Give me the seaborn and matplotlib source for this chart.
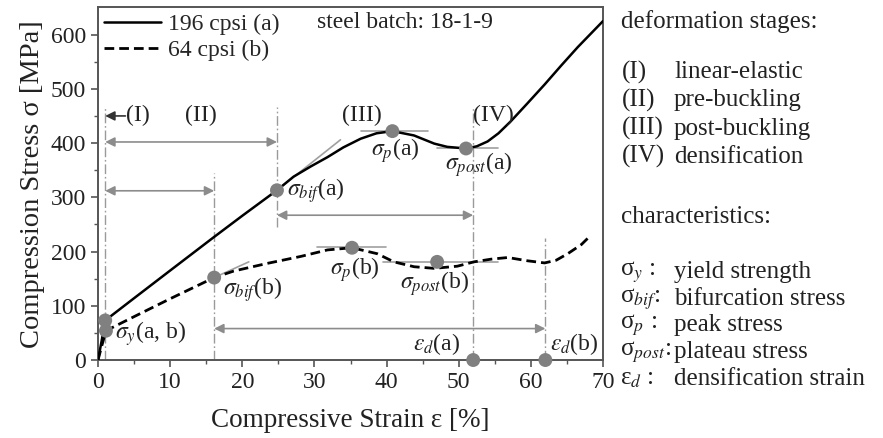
# Compression stress-strain curves with deformation stages
import numpy as np
import pandas as pd
import seaborn as sns
import matplotlib.pyplot as plt

# Curve (a): 196 cpsi, solid.
strain_a = [0, 0.5, 1.0, 5, 10, 16, 20, 24.8, 27.1, 29.5, 31.8, 34, 36.4, 38.6,
            40.8, 43.8, 46.6, 48.4, 51, 52.5, 54, 55.5, 57.2, 59.5, 61.9, 64.2,
            66.5, 70]
stress_a = [0, 35, 73, 114, 165, 226, 266, 313, 338, 357, 374, 392, 408, 418,
            422, 414, 399, 393, 390, 394, 403, 418, 440, 473, 508, 543, 577, 625]

# Curve (b): 64 cpsi, dashed.
strain_b = [0, 0.6, 1.1, 5, 10, 16.1, 18.8, 23.4, 28.1, 31.8, 35.2, 38.7, 41,
            43.8, 46.6, 49.8, 52.1, 54.5, 56.8, 59.5, 61.9, 63.5, 65.1, 67, 68.3]
stress_b = [0, 30, 54, 80, 113, 152, 164, 178, 191, 203, 207, 196, 181,
            172, 169, 173, 181, 186, 189, 183, 179, 184, 196, 213, 230]

# Characteristic points (grey dots).
point_strain = [1.0, 1.1, 24.8, 16.1, 40.8, 51.0, 35.2, 47.0, 52, 62]
point_stress = [73, 54, 313, 152, 422, 390, 207, 181, 0, 0]

# Stage boundaries: strain, lower and upper end of the dash-dot guide.
bound_strain = [1.0, 16.1, 24.8, 52, 62]
bound_low = [0, 0, 245, 0, 0]
bound_high = [465, 345, 466, 466, 225]

# Stage spans (double arrows): start, end, stress level.
span_start = [1.0, 1.0, 24.8, 16.1]
span_end = [24.8, 16.1, 52, 62]
span_level = [402, 312, 267, 58]

# Tangent / plateau guide segments: x0, x1, y0, y1.
guide_x0 = [24.8, 16.1, 36.4, 47.0, 30.4, 39.5]
guide_x1 = [33.6, 20.9, 45.8, 55.4, 39.9, 55.5]
guide_y0 = [313, 152, 423, 390, 208, 181]
guide_y1 = [406, 181, 423, 390, 208, 181]

stage_labels = ["(I)", "(II)", "(III)", "(IV)"]
stage_names = ["linear-elastic", "pre-buckling", "post-buckling", "densification"]
char_symbols = ["σ$_y$ :", "σ$_{bif}$:", "σ$_p$ :", "σ$_{post}$:", "ε$_d$ :"]
char_names = ["yield strength", "bifurcation stress", "peak stress",
              "plateau stress", "densification strain"]

sns.set_style("ticks")
plt.rcParams["font.family"] = ["Liberation Serif", "DejaVu Serif"]
plt.rcParams["mathtext.fontset"] = "stix"
txt = "#222222"
grey = "#8c8c8c"

fig, ax = plt.subplots(figsize=(8.83, 4.38), dpi=100)
fig.subplots_adjust(left=0.111, right=0.683, bottom=0.178, top=0.983)

# Guides first, so curves sit on top.
for x, lo, hi in zip(bound_strain, bound_low, bound_high):
    ax.plot([x, x], [lo, hi], color="#9a9a9a", lw=1.0,
            linestyle=(0, (7, 2, 1.2, 2)), zorder=1)
for x0, x1, y0, y1 in zip(guide_x0, guide_x1, guide_y0, guide_y1):
    ax.plot([x0, x1], [y0, y1], color="#a0a0a0", lw=1.2, zorder=1)
for s, e, lv in zip(span_start, span_end, span_level):
    ax.annotate("", xy=(e, lv), xytext=(s, lv),
                arrowprops=dict(arrowstyle="<|-|>", color=grey, lw=1.2,
                                mutation_scale=14, shrinkA=0, shrinkB=0))
ax.annotate("", xy=(bound_strain[0], 450), xytext=(3.8, 450),
            arrowprops=dict(arrowstyle="-|>", color="#333333", lw=1.2,
                            mutation_scale=14, shrinkA=0, shrinkB=0))

# Curves.
df_a = pd.DataFrame({"strain": strain_a, "stress": stress_a})
df_b = pd.DataFrame({"strain": strain_b, "stress": stress_b})
sns.lineplot(data=df_a, x="strain", y="stress", sort=False, color="black",
             lw=1.8, label="196 cpsi (a)", ax=ax, zorder=3)
sns.lineplot(data=df_b, x="strain", y="stress", sort=False, color="black",
             lw=2.0, linestyle=(0, (3.5, 1.8)), label="64 cpsi (b)", ax=ax,
             zorder=3)
sns.scatterplot(x=point_strain, y=point_stress, color="#808080", s=100,
                edgecolor="none", zorder=5, clip_on=False, ax=ax)

# Annotations.
fs = 17
ax.text(2.3, 49, r"$\sigma_y$(a, b)", fontsize=fs, va="center", color=txt)
ax.text(17.3, 130, r"$\sigma_{bif}$(b)", fontsize=fs, va="center", color=txt)
ax.text(26.2, 313, r"$\sigma_{bif}$(a)", fontsize=fs, va="center", color=txt)
ax.text(37.9, 386, r"$\sigma_p$(a)", fontsize=fs, va="center", color=txt)
ax.text(48.1, 360, r"$\sigma_{post}$(a)", fontsize=fs, va="center", color=txt)
ax.text(32.1, 166, r"$\sigma_p$(b)", fontsize=fs, va="center", color=txt)
ax.text(41.8, 141, r"$\sigma_{post}$(b)", fontsize=fs, va="center", color=txt)
ax.text(43.7, 30, r"$\varepsilon_d$(a)", fontsize=fs, va="center", color=txt)
ax.text(62.6, 30, r"$\varepsilon_d$(b)", fontsize=fs, va="center", color=txt)
ax.text(3.9, 451, "(I)", fontsize=fs, va="center", color=txt)
ax.text(14.3, 451, "(II)", fontsize=fs, va="center", ha="center", color=txt)
ax.text(36.6, 451, "(III)", fontsize=fs, va="center", ha="center", color=txt)
ax.text(54.8, 451, "(IV)", fontsize=fs, va="center", ha="center", color=txt)
ax.text(30.4, 623, "steel batch: 18-1-9", fontsize=fs, va="center", color=txt)

ax.legend(loc="upper left", frameon=False, fontsize=fs, handlelength=2.4,
          handletextpad=0.3, borderaxespad=0.1, labelspacing=0.2,
          borderpad=0.15)

# Axes.
ax.set_xlim(0, 70)
ax.set_ylim(0, 650)
ax.set_xticks(np.arange(0, 71, 10))
ax.set_xticks(np.arange(5, 70, 10), minor=True)
ax.set_yticks(np.arange(0, 601, 100))
ax.set_yticks(np.arange(50, 650, 100), minor=True)
ax.tick_params(which="major", length=5, width=1.2, color="#555555",
               labelsize=17, labelcolor=txt)
ax.tick_params(which="minor", length=3, width=1.0, color="#555555")
for sp in ax.spines.values():
    sp.set_color("#555555")
    sp.set_linewidth(1.4)
ax.set_xlabel("Compressive Strain ε [%]", fontsize=19.5, color=txt, labelpad=11)
ax.set_ylabel("Compression Stress σ [MPa]", fontsize=20.5, color=txt, labelpad=4)

# Right-hand key.
W, H = 883, 438
rfs = 18
fig.text(621 / W, 1 - 22 / H, "deformation stages:", fontsize=rfs,
         va="center", color=txt)
for i, (lab, name) in enumerate(zip(stage_labels, stage_names)):
    y = 1 - (72 + 28.3 * i) / H
    fig.text(622 / W, y, lab, fontsize=rfs, va="center", color=txt)
    fig.text(674 / W, y, name, fontsize=rfs, va="center", color=txt)
fig.text(621 / W, 1 - 217 / H, "characteristics:", fontsize=rfs,
         va="center", color=txt)
for i, (sym, name) in enumerate(zip(char_symbols, char_names)):
    y = 1 - (272 + 26.7 * i) / H
    fig.text(620 / W, y, sym, fontsize=rfs, va="center", color=txt)
    fig.text(674 / W, y, name, fontsize=rfs, va="center", color=txt)

fig.savefig("out.png", dpi=100)
